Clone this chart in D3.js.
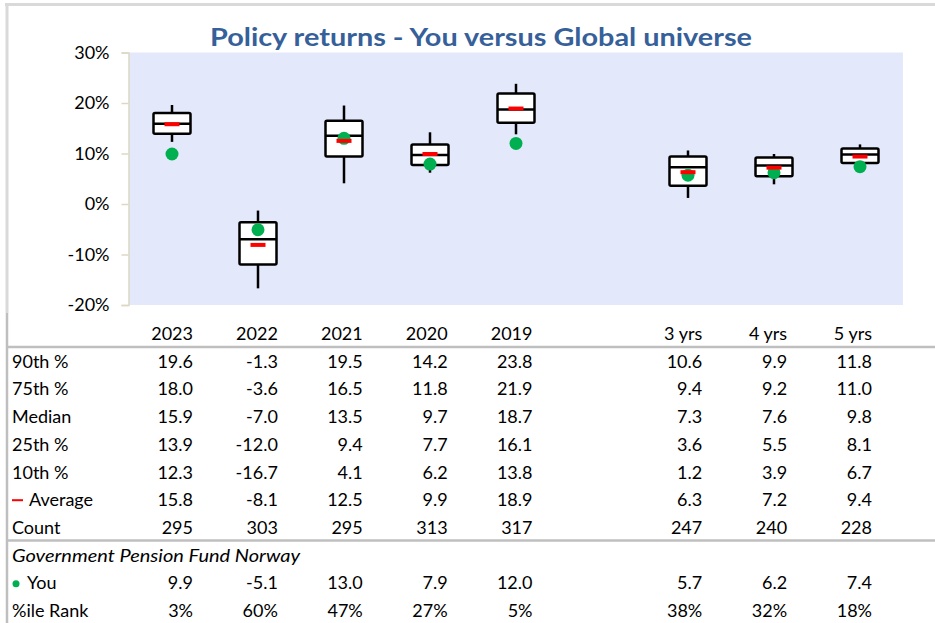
<!DOCTYPE html>
<html>
<head>
<meta charset="utf-8">
<script src="https://cdn.jsdelivr.net/npm/d3@7"></script>
<style>
  body { margin: 0; background: #fff; }
  svg { display: block; font-family: Lato, "Open Sans", sans-serif; }
</style>
</head>
<body>
<svg id="chart" width="935" height="623"></svg>
<script>
// periods shown on the chart, with an empty slot between the single years and the multi-year periods
const periods = ["2023", "2022", "2021", "2020", "2019", "3 yrs", "4 yrs", "5 yrs"];
const slots = ["2023", "2022", "2021", "2020", "2019", "gap", "3 yrs", "4 yrs", "5 yrs"];

const p90 = [19.6, -1.3, 19.5, 14.2, 23.8, 10.6, 9.9, 11.8];
const p75 = [18.0, -3.6, 16.5, 11.8, 21.9, 9.4, 9.2, 11.0];
const median = [15.9, -7.0, 13.5, 9.7, 18.7, 7.3, 7.6, 9.8];
const p25 = [13.9, -12.0, 9.4, 7.7, 16.1, 3.6, 5.5, 8.1];
const p10 = [12.3, -16.7, 4.1, 6.2, 13.8, 1.2, 3.9, 6.7];
const average = [15.8, -8.1, 12.5, 9.9, 18.9, 6.3, 7.2, 9.4];
const count = [295, 303, 295, 313, 317, 247, 240, 228];
const you = [9.9, -5.1, 13.0, 7.9, 12.0, 5.7, 6.2, 7.4];
const pctRank = ["3%", "60%", "47%", "27%", "5%", "38%", "32%", "18%"];

const yTicks = [-20, -10, 0, 10, 20, 30];
const title = "Policy returns - You versus Global universe";
const fundName = "Government Pension Fund Norway";

const data = periods.map((p, i) => ({
  period: p, p90: p90[i], p75: p75[i], median: median[i], p25: p25[i], p10: p10[i],
  average: average[i], count: count[i], you: you[i], rank: pctRank[i]
}));

const svg = d3.select("#chart");
const plot = { left: 129, right: 903, top: 52.5, bottom: 305 };

const x = d3.scaleBand().domain(slots).range([plot.left, plot.right]).padding(0);
const y = d3.scaleLinear().domain([-20, 30]).range([plot.bottom, plot.top]);
// right edge of the numbers in the table below
const xt = d3.scalePoint().domain(slots).range([193, 872]);

const boxW = 37;
const cx = d => x(d.period) + x.bandwidth() / 2;
const fs = "18px";

// outer frame
svg.append("line").attr("x1", 5).attr("x2", 935).attr("y1", 4.5).attr("y2", 4.5)
  .attr("stroke", "#d9d9d9").attr("stroke-width", 3);
svg.append("line").attr("x1", 7).attr("x2", 7).attr("y1", 3).attr("y2", 313)
  .attr("stroke", "#d9d9d9").attr("stroke-width", 3);
svg.append("line").attr("x1", 7).attr("x2", 7).attr("y1", 313).attr("y2", 623)
  .attr("stroke", "#bfbfbf").attr("stroke-width", 2.5);

// plot background
svg.append("rect")
  .attr("x", plot.left).attr("y", plot.top)
  .attr("width", plot.right - plot.left).attr("height", plot.bottom - plot.top)
  .attr("fill", "#e3e9fb");

// y axis
const yAxis = svg.append("g")
  .attr("transform", "translate(" + (plot.left - 0.5) + ",0)")
  .call(d3.axisLeft(y).tickValues(yTicks).tickSize(7).tickPadding(12).tickFormat(d => d + "%"));
yAxis.select(".domain").attr("stroke", "#ddd8c4").attr("stroke-width", 1.5);
yAxis.selectAll(".tick line").attr("stroke", "#ddd8c4").attr("stroke-width", 1.5);
yAxis.selectAll(".tick text")
  .attr("fill", "#000")
  .style("font-size", fs)
  .style("font-family", "Lato, sans-serif");

// title
svg.append("text")
  .attr("x", 481).attr("y", 46)
  .attr("text-anchor", "middle")
  .attr("fill", "#36609a")
  .attr("textLength", 542)
  .attr("lengthAdjust", "spacingAndGlyphs")
  .style("font-size", "25px")
  .style("font-weight", "bold")
  .text(title);

// boxes
const box = svg.selectAll(".box")
  .data(data)
  .enter().append("g")
  .attr("class", "box");

box.append("line")
  .attr("x1", cx).attr("x2", cx)
  .attr("y1", d => y(d.p90)).attr("y2", d => y(d.p75))
  .attr("stroke", "#000").attr("stroke-width", 2.5);
box.append("line")
  .attr("x1", cx).attr("x2", cx)
  .attr("y1", d => y(d.p25)).attr("y2", d => y(d.p10))
  .attr("stroke", "#000").attr("stroke-width", 2.5);
box.append("rect")
  .attr("x", d => cx(d) - boxW / 2)
  .attr("y", d => y(d.p75))
  .attr("width", boxW)
  .attr("height", d => y(d.p25) - y(d.p75))
  .attr("rx", 1.5)
  .attr("fill", "#fff").attr("stroke", "#000").attr("stroke-width", 2.5);
box.append("line")
  .attr("x1", d => cx(d) - boxW / 2).attr("x2", d => cx(d) + boxW / 2)
  .attr("y1", d => y(d.median)).attr("y2", d => y(d.median))
  .attr("stroke", "#000").attr("stroke-width", 2.5);

// you (green dot) then average (red dash)
box.append("circle")
  .attr("cx", cx)
  .attr("cy", d => y(d.you))
  .attr("r", 6.5)
  .attr("fill", "#00b050");
box.append("rect")
  .attr("x", d => cx(d) - 7.5)
  .attr("y", d => y(d.average) - 2)
  .attr("width", 15).attr("height", 4)
  .attr("fill", "#ff0000");

// table
const rowY = i => 340 + i * 27.7;
const oneDec = d => d.toFixed(1);

const rows = [
  { label: "90th %", key: "p90", fmt: oneDec },
  { label: "75th %", key: "p75", fmt: oneDec },
  { label: "Median", key: "median", fmt: oneDec },
  { label: "25th %", key: "p25", fmt: oneDec },
  { label: "10th %", key: "p10", fmt: oneDec },
  { label: "Average", key: "average", fmt: oneDec, mark: "avg" },
  { label: "Count", key: "count", fmt: d => String(d) },
  { label: fundName, italic: true },
  { label: "You", key: "you", fmt: oneDec, mark: "you" },
  { label: "%ile Rank", key: "rank", fmt: d => d }
];

// header row
svg.selectAll(".colhead")
  .data(data)
  .enter().append("text")
  .attr("class", "colhead")
  .attr("x", d => xt(d.period))
  .attr("y", rowY(0))
  .attr("text-anchor", "end")
  .style("font-size", fs)
  .text(d => d.period);

rows.forEach(function(r, ri) {
  const yy = rowY(ri + 1);
  let lx = 12;
  if (r.mark == "avg") {
    svg.append("rect").attr("x", 12).attr("y", yy - 7).attr("width", 11).attr("height", 2).attr("fill", "#ff0000");
    lx = 29;
  } else if (r.mark == "you") {
    svg.append("circle").attr("cx", 16).attr("cy", yy - 5.5).attr("r", 3.5).attr("fill", "#00b050");
    lx = 27;
  }
  const lab = svg.append("text")
    .attr("x", lx).attr("y", yy)
    .style("font-size", fs)
    .style("font-style", r.italic ? "italic" : "normal")
    .text(r.label);
  if (r.italic) lab.attr("textLength", 288).attr("lengthAdjust", "spacingAndGlyphs");
  if (!r.key) return;
  svg.selectAll(".cell" + ri)
    .data(data)
    .enter().append("text")
    .attr("x", d => xt(d.period))
    .attr("y", yy)
    .attr("text-anchor", "end")
    .style("font-size", fs)
    .text(d => r.fmt(d[r.key]));
});

// separators under the header and under Count
[347, 540.5].forEach(function(ly) {
  svg.append("line").attr("x1", 7).attr("x2", 935).attr("y1", ly).attr("y2", ly)
    .attr("stroke", "#bfbfbf").attr("stroke-width", 2.5);
});
</script>
</body>
</html>
